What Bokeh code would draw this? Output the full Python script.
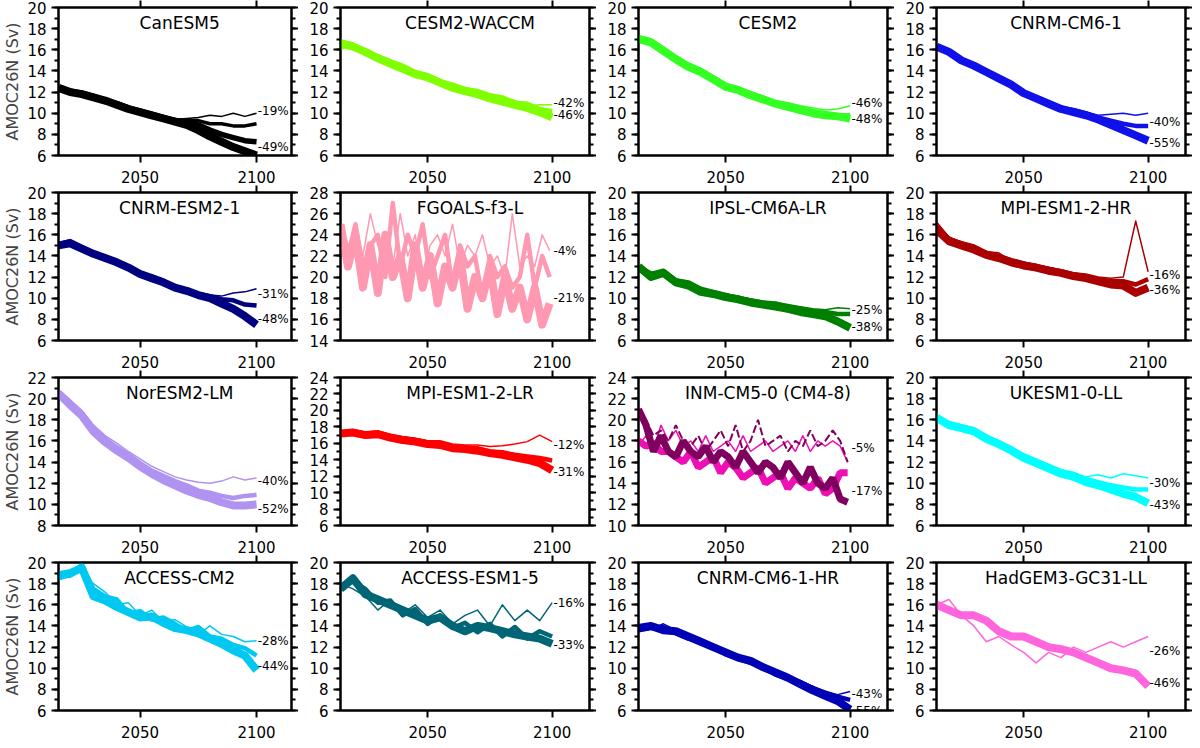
from bokeh.plotting import figure
from bokeh.layouts import gridplot
from bokeh.models import LinearAxis, Range1d, FixedTicker, Label
from bokeh.embed import file_html
from bokeh.resources import INLINE

Y5 = list(range(2015, 2101, 5))
Y3 = list(range(2015, 2101, 3))

canesm5 = [
    [12.4,12.0,11.8,11.5,11.2,10.8,10.4,10.1,9.8,9.5,9.2,8.9,8.4,7.8,7.3,6.8,6.4,6.0],
    [12.3,12.1,11.9,11.6,11.1,10.9,10.5,10.2,9.9,9.6,9.3,9.2,8.9,8.4,8.0,7.7,7.4,7.3],
    [12.4,12.0,12.0,11.5,11.2,10.9,10.4,10.3,9.9,9.5,9.4,9.3,9.3,9.0,9.0,8.8,8.8,9.0],
    [12.5,12.1,11.8,11.6,11.3,10.8,10.5,10.2,9.8,9.6,9.4,9.5,9.6,9.8,9.7,10.0,9.7,10.0],
]
cesm2waccm = [
    [16.6,16.3,15.8,15.2,14.7,14.2,13.7,13.4,12.9,12.4,12.1,11.8,11.4,11.1,10.8,10.5,10.1,9.6],
    [16.8,16.5,15.6,15.4,14.9,14.5,13.9,13.6,13.0,12.7,12.3,12.1,11.7,11.5,11.0,10.9,10.4,10.2],
    [16.0,16.6,16.0,15.1,14.6,14.3,13.8,13.2,13.2,12.2,12.4,11.9,11.5,11.5,11.2,10.7,10.8,10.8],
]
cesm2 = [
    [17.0,16.7,15.9,15.1,14.4,13.9,13.2,12.5,12.2,11.7,11.3,10.9,10.6,10.3,10.0,9.8,9.7,9.5],
    [17.2,16.9,16.1,15.3,14.6,14.1,13.4,12.7,12.3,11.9,11.5,11.0,10.8,10.5,10.2,10.0,9.8,9.8],
    [16.8,17.0,16.0,15.4,14.5,13.9,13.5,12.8,12.5,11.8,11.6,11.2,11.0,10.7,10.5,10.3,10.4,10.7],
]
cnrmcm61 = [
    [16.3,15.8,15.0,14.5,13.9,13.3,12.7,11.9,11.4,10.9,10.4,10.1,9.8,9.4,8.9,8.4,7.9,7.4],
    [16.2,15.7,15.1,14.6,14.0,13.4,12.8,12.0,11.5,11.0,10.5,10.3,10.0,9.6,9.3,9.0,8.8,8.8],
    [16.4,15.9,15.0,14.7,14.1,13.5,12.9,12.1,11.6,11.1,10.6,10.4,10.1,9.8,9.9,10.0,9.8,10.0],
]
cnrmesm21 = [
    [15.0,15.2,14.7,14.2,13.8,13.4,12.9,12.3,11.9,11.5,11.0,10.7,10.3,10.0,9.5,9.0,8.3,7.5],
    [15.1,15.4,14.8,14.3,13.9,13.5,13.0,12.4,12.0,11.6,11.1,10.8,10.4,10.2,9.9,9.8,9.4,9.3],
    [14.9,15.3,14.9,14.4,14.0,13.6,13.1,12.5,12.1,11.7,11.2,10.9,10.5,10.3,10.2,10.5,10.6,10.9],
]
fgoals = [
    [25,21,24,19,23,18.5,24,20,22,18,23,19,22,17.5,21,19,22,17,20,18,21,16.5,20,17,19,16,19,15.5,17.5],
    [24,22,25,21,23,24,20,27,21,24,22,25,20,22,24,19,23,21,22,18,22,20,21,19,20,24,19,22,20],
    [25,23,24,22,26,23,24,21,26,22,24,20,23,24,22,25,21,23,22,24,21,22,20,26,21,22,21,24,22.5],
]
ipsl = [
    [13.0,12.0,12.4,11.5,11.2,10.6,10.4,10.1,9.9,9.6,9.4,9.2,9.0,8.7,8.5,8.3,7.8,7.2],
    [12.8,12.3,12.6,11.7,11.5,10.9,10.6,10.3,10.0,9.8,9.6,9.5,9.2,9.0,8.8,8.7,8.5,8.5],
    [13.1,12.5,12.2,11.8,11.6,11.0,10.5,10.4,10.2,9.9,9.7,9.6,9.4,9.2,9.0,8.9,9.1,9.0],
]
mpihr = [
    [16.5,15.4,15.0,14.6,14.1,13.8,13.4,13.1,12.9,12.6,12.4,12.1,11.9,11.6,11.3,11.2,10.5,11.0],
    [16.8,15.6,15.2,14.9,14.3,14.0,13.6,13.3,13.0,12.8,12.5,12.2,12.0,11.8,11.6,11.6,11.3,11.8],
    [17.2,15.8,15.3,15.0,14.4,14.3,13.5,13.4,13.2,12.9,12.7,12.4,12.3,12.0,11.9,12.0,17.3,12.5],
]
noresm = [
    [20.5,19.4,18.4,16.9,15.9,15.1,14.4,13.6,12.9,12.3,11.8,11.3,10.9,10.6,10.2,9.9,9.9,10.0],
    [20.7,19.6,18.6,17.2,16.2,15.4,14.7,13.9,13.2,12.7,12.2,11.8,11.3,11.1,10.8,10.6,10.8,10.9],
    [20.8,19.9,18.9,17.5,16.5,15.8,15.0,14.3,13.6,13.1,12.6,12.3,12.1,12.0,12.2,12.6,12.3,12.5],
]
mpilr = [
    [17.2,17.3,17.0,17.1,16.7,16.4,16.2,15.9,15.8,15.4,15.3,15.1,14.8,14.6,14.3,14.0,13.6,12.7],
    [17.1,17.5,17.2,17.3,16.9,16.6,16.4,16.1,16.0,15.6,15.5,15.4,15.0,14.9,14.6,14.4,14.2,13.9],
    [17.4,17.6,17.3,17.5,17.0,16.8,16.6,16.3,16.3,15.9,15.8,15.8,15.6,15.7,15.9,16.2,17.0,16.2],
]
inm_purple = [21,19.5,17,18.5,17,16.5,18,17,16.5,17.5,16,17,16.5,15.5,17,16,15,16,15.5,14.5,16,15,14,15.5,14,13.5,14.5,12.5,12.2]
inm_magenta = [18,17.5,17.8,17,17,16.5,16,17,15.5,16,16.5,15,16,15.5,14.5,15,15.5,14,14.5,15,13.5,14.5,14,13.5,14.5,13,13.5,15,15]
inm_purple_dash = [21,20,18.5,19,18,19.5,18,17.5,18.5,17,18,19,17.5,19.5,17,18,20,17.5,18,18.5,17,18,17.5,19,17.5,18,19,18,16]
inm_magenta_thin = [17.5,18.5,17,19.5,18,19,17.5,18,17,18.5,17,17.5,18,17,18.5,17,17.5,18,17,17.5,18,17,18.5,17,18,17.5,18,17.5,16]
ukesm = [
    [16.2,15.5,15.2,14.9,14.2,13.7,13.1,12.4,11.9,11.4,10.9,10.6,10.1,9.8,9.4,9.0,8.7,8.1],
    [16.0,15.7,15.4,15.1,14.4,13.9,13.3,12.6,12.1,11.6,11.1,10.9,10.4,10.1,9.8,9.6,9.4,9.4],
    [16.5,15.6,15.3,15.2,14.6,14.0,13.4,12.8,12.3,11.8,11.3,11.0,10.6,10.8,10.5,10.9,10.7,10.5],
]
accesscm2 = [
    [18.8,19.0,19.5,16.8,16.4,15.8,15.3,14.8,14.9,14.3,13.8,13.6,13.3,12.8,12.3,11.7,11.2,9.8],
    [18.5,18.8,19.8,17.5,16.8,16.5,15.2,15.4,14.6,14.8,14.2,13.5,13.9,13.0,12.8,12.2,11.9,11.2],
    [19.0,18.6,19.2,18.0,17.2,16.0,16.2,15.0,15.5,14.4,14.6,13.9,13.2,14.0,13.2,13.0,12.5,12.6],
]
accessesm = [
    [17.5,18.5,17.0,16.5,16.0,15.5,15.0,14.5,14.8,14.0,13.5,14.0,13.8,13.5,13.2,13.0,12.8,12.3],
    [17.8,18.2,17.5,16.2,16.4,15.0,15.6,14.2,15.0,13.8,14.3,13.4,14.2,13.0,13.9,12.8,13.5,13.0],
    [18.0,17.5,16.8,15.5,16.5,15.2,16.0,14.8,15.5,14.2,15.0,15.5,14.0,16.0,14.5,15.5,14.5,16.2],
]
cnrmhr = [
    [13.8,14.0,13.6,13.5,13.0,12.5,12.0,11.5,11.0,10.7,10.1,9.6,9.1,8.5,7.9,7.4,6.9,6.1],
    [13.6,13.8,13.9,13.3,12.8,12.6,12.1,11.3,10.9,10.5,10.2,9.4,9.0,8.7,8.1,7.7,7.3,7.0],
    [14.0,13.7,14.2,13.6,13.1,12.4,11.9,11.6,11.2,10.8,10.0,9.7,9.3,8.8,8.3,7.8,7.5,7.8],
]
hadgem = [
    [16.0,15.5,15.0,15.0,14.5,13.5,13.0,13.0,12.5,12.0,11.8,11.5,11.0,10.5,10.0,9.8,9.5,8.3],
    [16.0,16.5,15.0,14.0,12.5,13.0,12.2,11.5,10.5,11.5,11.0,12.0,11.5,12.0,12.5,12.0,12.5,13.0],
]

names = ["CanESM5","CESM2-WACCM","CESM2","CNRM-CM6-1",
         "CNRM-ESM2-1","FGOALS-f3-L","IPSL-CM6A-LR","MPI-ESM1-2-HR",
         "NorESM2-LM","MPI-ESM1-2-LR","INM-CM5-0 (CM4-8)","UKESM1-0-LL",
         "ACCESS-CM2","ACCESS-ESM1-5","CNRM-CM6-1-HR","HadGEM3-GC31-LL"]
yranges = [(6,20),(6,20),(6,20),(6,20),(6,20),(14,28),(6,20),(6,20),
           (8,22),(6,24),(10,24),(6,20),(6,20),(6,20),(6,20),(6,20)]
colors = ["#000000","#80ff00","#33ff22","#1010e8","#000080","#ff99b2","#008000","#aa0000",
          "#b092f0","#ff0000",None,"#00ffff","#00c8f0","#006575","#0000b4","#ff66dd"]
series = [canesm5,cesm2waccm,cesm2,cnrmcm61,cnrmesm21,fgoals,ipsl,mpihr,
          noresm,mpilr,None,ukesm,accesscm2,accessesm,cnrmhr,hadgem]
pct_labels = [("-19%",10.2,"-49%",6.8),("-42%",11.0,"-46%",9.8),("-46%",11.0,"-48%",9.5),
              ("-40%",9.2,"-55%",7.2),("-31%",10.4,"-48%",8.0),("-4%",22.5,"-21%",18.0),
              ("-25%",8.9,"-38%",7.3),("-16%",12.2,"-36%",10.8),("-40%",12.2,"-52%",9.6),
              ("-12%",15.8,"-31%",12.5),("-5%",17.3,"-17%",13.3),("-30%",10.0,"-43%",7.9),
              ("-28%",12.6,"-44%",10.2),("-16%",16.2,"-33%",12.2),("-43%",7.6,"-55%",6.0),
              ("-26%",11.6,"-46%",8.6)]
widths4 = [8, 5.5, 3.5, 1.5]
FONT = "DejaVu Sans"

def style_axis(ax, labels=True, ticks=None):
    ax.major_tick_out = 7
    ax.major_tick_in = 0
    ax.minor_tick_out = 4
    ax.minor_tick_in = 0
    ax.axis_line_width = 2
    ax.major_tick_line_width = 2
    ax.minor_tick_line_width = 2
    ax.major_label_text_font = FONT
    ax.major_label_text_font_size = "15px"
    ax.major_label_text_color = "#000000"
    if not labels:
        ax.major_label_overrides = {t: "" for t in ticks}
        ax.major_label_standoff = 0

figs = []
for i, name in enumerate(names):
    col = i % 4
    lo, hi = yranges[i]
    yticks = list(range(lo, hi + 1, 2))
    p = figure(width=298, height=185, output_backend="svg", toolbar_location=None,
               x_range=Range1d(2015, 2115), y_range=Range1d(lo, hi),
               min_border_left=48 if col == 0 else 42, min_border_right=4,
               min_border_top=2, min_border_bottom=28,
               outline_line_color="black", outline_line_width=2)
    p.grid.visible = False
    p.background_fill_color = "white"
    p.xaxis.ticker = FixedTicker(ticks=[2050, 2100])
    p.yaxis.ticker = FixedTicker(ticks=yticks, minor_ticks=list(range(lo, hi + 1)))
    style_axis(p.xaxis[0]); style_axis(p.yaxis[0])
    p.xaxis.major_label_standoff = 8
    p.xaxis.minor_tick_out = 0
    if col == 0:
        p.yaxis.axis_label = "AMOC26N (Sv)"
        p.yaxis.axis_label_text_font = FONT
        p.yaxis.axis_label_text_font_style = "normal"
        p.yaxis.axis_label_text_font_size = "16px"
        p.yaxis.axis_label_standoff = 2
    ra = LinearAxis(ticker=FixedTicker(ticks=yticks, minor_ticks=list(range(lo, hi + 1))))
    style_axis(ra, labels=False, ticks=yticks)
    p.add_layout(ra, "right")
    ta = LinearAxis(ticker=FixedTicker(ticks=[2050, 2100]))
    style_axis(ta, labels=False, ticks=[2050, 2100])
    ta.minor_tick_out = 0
    p.add_layout(ta, "above")

    if i == 10:
        p.line(Y3, inm_magenta_thin, color="#ee10b4", line_width=1.5)
        p.line(Y3, inm_purple_dash, color="#800060", line_width=2, line_dash="8 3")
        p.line(Y3, inm_magenta, color="#ee10b4", line_width=7)
        p.line(Y3, inm_purple, color="#800060", line_width=7)
    else:
        ss = series[i]
        xs = Y3 if i == 5 else Y5
        ws = widths4 if len(ss) == 4 else ([8, 4.5, 1.5] if len(ss) == 3 else [8, 1.5])
        for s, w in reversed(list(zip(ss, ws))):
            p.line(xs, s, color=colors[i], line_width=w, line_join="round")

    t1, y1, t2, y2 = pct_labels[i]
    for t, yv in ((t1, y1), (t2, y2)):
        p.add_layout(Label(x=2100.5, y=yv, text=t, text_font=FONT, text_font_size="12px",
                           text_baseline="middle", text_color="black"))
    p.add_layout(Label(x=2067, y=hi - (hi - lo) * 0.04, text=name, text_font=FONT,
                       text_font_size="17px", text_align="center", text_baseline="top",
                       text_color="black"))
    figs.append(p)

grid = gridplot(figs, ncols=4, toolbar_location=None)
open("out.html", "w").write(file_html(grid, INLINE))
